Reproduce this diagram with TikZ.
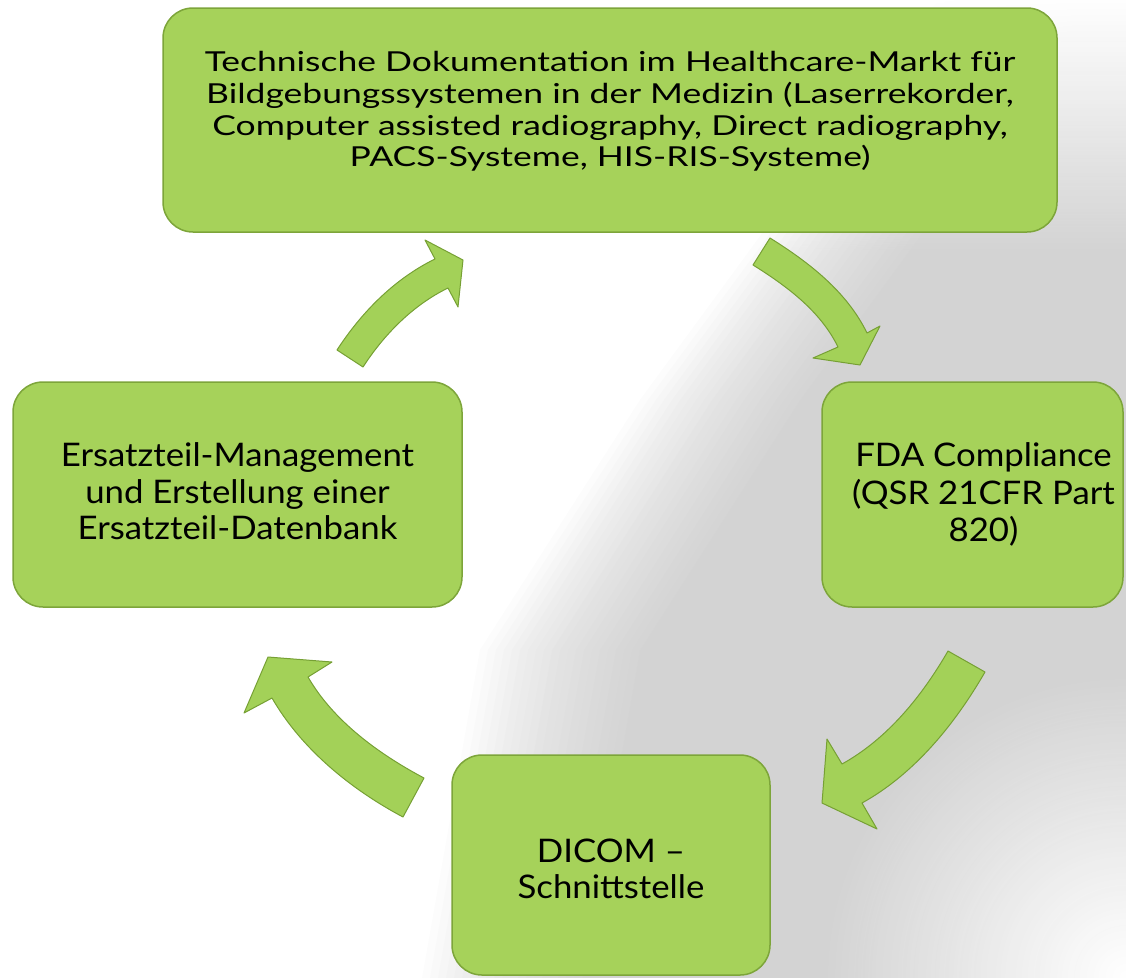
\documentclass[tikz,border=0pt]{standalone}
\usepackage{fontspec}
\setmainfont{Lato}[FakeStretch=1.07]
\newfontfamily\widefont{Lato}[FakeStretch=1.29]
\usetikzlibrary{calc, fadings}

\definecolor{boxgreen}{RGB}{166,210,90}
\definecolor{boxedge}{RGB}{125,165,58}
\definecolor{arrowgreen}{RGB}{163,209,88}
\definecolor{arrowedge}{RGB}{118,160,52}
\definecolor{shadegray}{RGB}{190,190,190}

\tikzfading[name=fade corner, inner color=transparent!0, outer color=transparent!100]

\tikzset{
	box/.style={
		rectangle, rounded corners=30pt,
		draw=boxedge, line width=1.5pt,
		fill=boxgreen,
		text=black, align=center,
		inner sep=0pt,
		font=\fontsize{32.5pt}{37pt}\selectfont
	},
	cycle arrow/.style={fill=arrowgreen, draw=arrowedge, line width=1pt, line join=round},
	backshade/.style={fill=shadegray, opacity=0.05}
}

\begin{document}
\begin{tikzpicture}[x=1pt, y=-1pt]
	\useasboundingbox (0,0) rectangle (1126,977);

	% grey shade behind the right half
	\foreach \s in {-80,-72,...,80}
	{
		\fill[backshade] ($(1010,0)+(\s,0)$) -- (1140,0) -- (1140,990)
			-- ($(500,990)+(\s,0)$) -- ($(560,650)+(\s,0)$) -- ($(720,400)+(\s,0)$)
			-- ($(830,250)+(\s,0)$) -- cycle;
	}
	\fill[white, path fading=south] (560,-2) rectangle (1130,250);
	\fill[white, path fading=fade corner] (1126,977) circle (300);

	% curved arrows, clockwise
	\fill[cycle arrow] (770,238) .. controls +(32:46) and +(244:46) .. (867,333)
		-- (880,326) -- (860,365) -- (813,358) -- (838,347)
		.. controls +(244:40) and +(32:40) .. (753,265) -- cycle;
	\fill[cycle arrow] (985,672) .. controls +(120:60) and +(331:60) .. (862,803)
		-- (877,829) -- (822,803) -- (827,739) -- (842,764)
		.. controls +(331:52) and +(120:52) .. (948,651) -- cycle;
	\fill[cycle arrow] (403,817) .. controls +(208:59) and +(60:59) .. (272,698)
		-- (244,713) -- (268,657) -- (332,662) -- (308,677)
		.. controls +(60:51) and +(208:51) .. (424,778) -- cycle;
	\fill[cycle arrow] (337,350) .. controls +(-57:45) and +(154:45) .. (435,259)
		-- (425,240) -- (463,260) -- (458,307) -- (448,288)
		.. controls +(154:39) and +(-57:39) .. (363,367) -- cycle;

	% the four steps
	\node[box, minimum width=894pt, minimum height=224pt,
		font=\widefont\fontsize{27.5pt}{31.7pt}\selectfont] (doku) at (610,120)
		{Technische Dokumentation im Healthcare-Markt für\\
		Bildgebungssystemen in der Medizin (Laserrekorder,\\
		Computer assisted radiography, Direct radiography,\\
		PACS-Systeme, HIS-RIS-Systeme)\rule[-21.5pt]{0pt}{21.5pt}};
	\node[box, minimum width=301pt, minimum height=225pt,
		label={[align=center, xshift=11pt, font=\fontsize{32.5pt}{37.5pt}\selectfont]center:{FDA Compliance\\ (QSR 21CFR Part\\ 820)}}]
		(fda) at (972.5,494.5) {};
	\node[box, minimum width=318pt, minimum height=220pt,
		font=\fontsize{32.5pt}{36.7pt}\selectfont] (dicom) at (611,865)
		{\rule{0pt}{31pt}DICOM –\\ Schnittstelle};
	\node[box, minimum width=449pt, minimum height=225pt,
		font=\fontsize{32.5pt}{36.5pt}\selectfont] (ersatz) at (237.5,494.5)
		{Ersatzteil-Management\\ und Erstellung einer\\ Ersatzteil-Datenbank\rule[-6pt]{0pt}{6pt}};

\end{tikzpicture}
\end{document}
